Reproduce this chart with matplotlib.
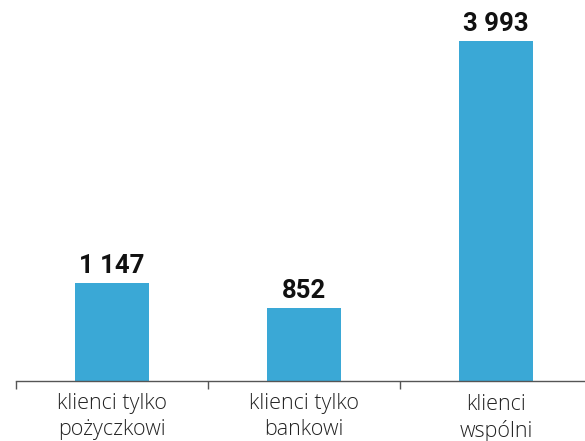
import matplotlib.pyplot as plt
from matplotlib.ticker import FixedLocator

categories = ["klienci tylko\npożyczkowi", "klienci tylko\nbankowi", "klienci\nwspólni"]
values = [1147, 852, 3993]
value_labels = ["1 147", "852", "3 993"]

bar_color = "#3aa8d6"

fig = plt.figure(figsize=(5.85, 4.41), dpi=100)
ax = fig.add_axes([16 / 585, 60 / 441, 576 / 585, 381 / 441])

x = range(len(categories))
ax.bar(x, values, width=0.39, color=bar_color)

for xi, v, lab in zip(x, values, value_labels):
    ax.annotate(lab, (xi, v), xytext=(0, 4), textcoords="offset points",
                ha="center", va="bottom", fontsize=18.5, fontweight="bold",
                family="Roboto", color="#111111")

ax.set_xlim(-0.5, 2.5)
ax.set_ylim(0, 4477)
ax.set_yticks([])
ax.set_xticks(list(x))
ax.set_xticklabels(categories, fontsize=15.5, family="Open Sans", fontweight="light",
                   color="#222222", linespacing=1.3)
ax.tick_params(axis="x", which="major", length=0, pad=9)
ax.xaxis.set_minor_locator(FixedLocator([-0.5, 0.5, 1.5]))
ax.tick_params(axis="x", which="minor", length=6, color="#555555", width=1)

for side in ("top", "right", "left"):
    ax.spines[side].set_visible(False)
ax.spines["bottom"].set_color("#555555")
ax.spines["bottom"].set_linewidth(1)

fig.savefig("out.png", dpi=100)
